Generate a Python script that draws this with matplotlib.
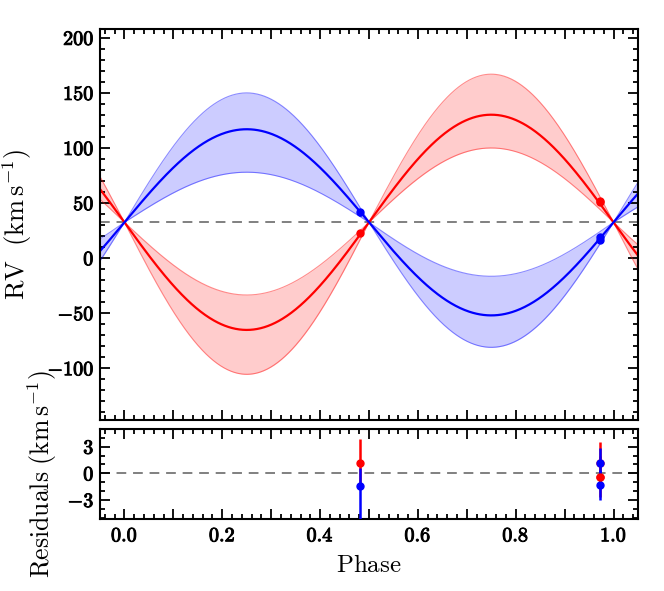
import numpy as np
import matplotlib
matplotlib.use("Agg")
import matplotlib.pyplot as plt
import matplotlib.patheffects as pe
from matplotlib.ticker import MultipleLocator, FuncFormatter

plt.rcParams["mathtext.fontset"] = "cm"
plt.rcParams["font.family"] = "serif"
plt.rcParams["font.serif"] = ["cmr10", "DejaVu Serif"]

# fitted orbit
gamma = 32.5
K_blue = 84.5
# band semi-amplitudes: [low, high] for first half, [low, high] for second half
K_blue_band = [45.5, 117.5, 49.0, 113.5]
K_red = 97.7
K_red_band = [66.0, 138.0, 67.5, 134.5]

# observations
phase_obs = [0.481, 0.973, 0.973]
rv_red = [22.5, 50.6, 52.2]
rv_blue = [42.1, 16.4, 18.9]
res_red = [1.2, -0.4, 1.2]
res_blue = [-1.45, -1.35, 1.2]
err_red = [2.7, 2.3, 2.3]
err_blue_lo = [3.8, 1.6, 1.7]
err_blue_hi = [2.0, 1.7, 1.7]


def bf(x, pos):
    return r"$\mathbf{%g}$" % round(x, 2)


def bf_even(x, pos):
    if int(round(x * 10)) % 2:
        return ""
    return r"$\mathbf{%.1f}$" % x


def envelope(s, k, sign):
    hi = np.where(s > 0, k[1] * s, k[2] * s)
    lo = np.where(s > 0, k[0] * s, k[3] * s)
    if sign < 0:
        return gamma - hi, gamma - lo
    return gamma + lo, gamma + hi


fig = plt.figure(figsize=(6.64, 5.91), dpi=100)
ax = fig.add_axes([0.1506, 0.2893, 0.8102, 0.6616])
axr = fig.add_axes([0.1506, 0.1218, 0.8102, 0.1523], sharex=ax)

ph = np.linspace(-0.05, 1.05, 600)
s = np.sin(2 * np.pi * ph)

b_mid = gamma + K_blue * s
b_lo, b_up = envelope(s, K_blue_band, 1)
r_mid = gamma - K_red * s
r_lo, r_up = envelope(s, K_red_band, -1)

for up, lo, c in [(r_up, r_lo, "red"), (b_up, b_lo, "blue")]:
    ax.fill_between(ph, lo, up, color=c, alpha=0.2, lw=0)
    ax.plot(ph, up, color=c, lw=0.8, alpha=0.45)
    ax.plot(ph, lo, color=c, lw=0.8, alpha=0.45)
ax.plot(ph, r_mid, color="red", lw=1.6)
ax.plot(ph, b_mid, color="blue", lw=1.6)
ax.axhline(gamma, color="0.5", ls="--", lw=1.4, dashes=(5, 3.5), zorder=1)

ax.errorbar(phase_obs, rv_red, yerr=err_red, fmt="o", color="red", ms=5,
            elinewidth=1.8, capsize=0, zorder=5)
ax.errorbar(phase_obs, rv_blue, yerr=[err_blue_lo, err_blue_hi], fmt="o",
            color="blue", ms=5, elinewidth=1.8, capsize=0, zorder=5)

axr.axhline(0, color="0.5", ls="--", lw=1.4, dashes=(5, 3.5), zorder=1)
axr.errorbar(phase_obs, res_red, yerr=err_red, fmt="o", color="red", ms=5,
             elinewidth=1.8, capsize=0, zorder=4)
axr.errorbar(phase_obs, res_blue, yerr=[err_blue_lo, err_blue_hi], fmt="o",
             color="blue", ms=5, elinewidth=1.8, capsize=0, zorder=5)
axr.errorbar(phase_obs[1:2], res_red[1:2], fmt="o", color="red", ms=5, zorder=6)

ax.set_xlim(-0.05, 1.05)
ax.set_ylim(-147, 208)
axr.set_ylim(-5.15, 5.0)

ax.yaxis.set_major_locator(MultipleLocator(50))
ax.yaxis.set_minor_locator(MultipleLocator(10))
axr.yaxis.set_major_locator(MultipleLocator(3))
axr.yaxis.set_minor_locator(MultipleLocator(1))
axr.xaxis.set_major_locator(MultipleLocator(0.1))
axr.xaxis.set_minor_locator(MultipleLocator(0.02))
ax.yaxis.set_major_formatter(FuncFormatter(bf))
axr.yaxis.set_major_formatter(FuncFormatter(bf))
axr.xaxis.set_major_formatter(FuncFormatter(bf_even))
plt.setp(ax.get_xticklabels(), visible=False)

thick = [pe.withStroke(linewidth=0.7, foreground="black")]
for a in (ax, axr):
    a.tick_params(which="both", direction="in", top=True, right=True, width=1.3,
                  labelsize=14.5)
    a.tick_params(which="major", length=7)
    a.tick_params(which="minor", length=3.5)
    a.tick_params(axis="y", pad=4)
    a.tick_params(axis="x", pad=6)
    for sp in a.spines.values():
        sp.set_linewidth(1.5)
    for t in a.get_yticklabels() + a.get_xticklabels():
        t.set_path_effects(thick)

ax.set_ylabel(r"$\mathrm{RV\ \ (km\,s^{-1})}$", fontsize=19, labelpad=10)
axr.set_ylabel(r"$\mathrm{Residuals\ (km\,s^{-1})}$", fontsize=18.5, labelpad=6)
axr.set_xlabel(r"$\mathrm{Phase}$", fontsize=18, labelpad=7)

fig.savefig("out.png", dpi=100)
